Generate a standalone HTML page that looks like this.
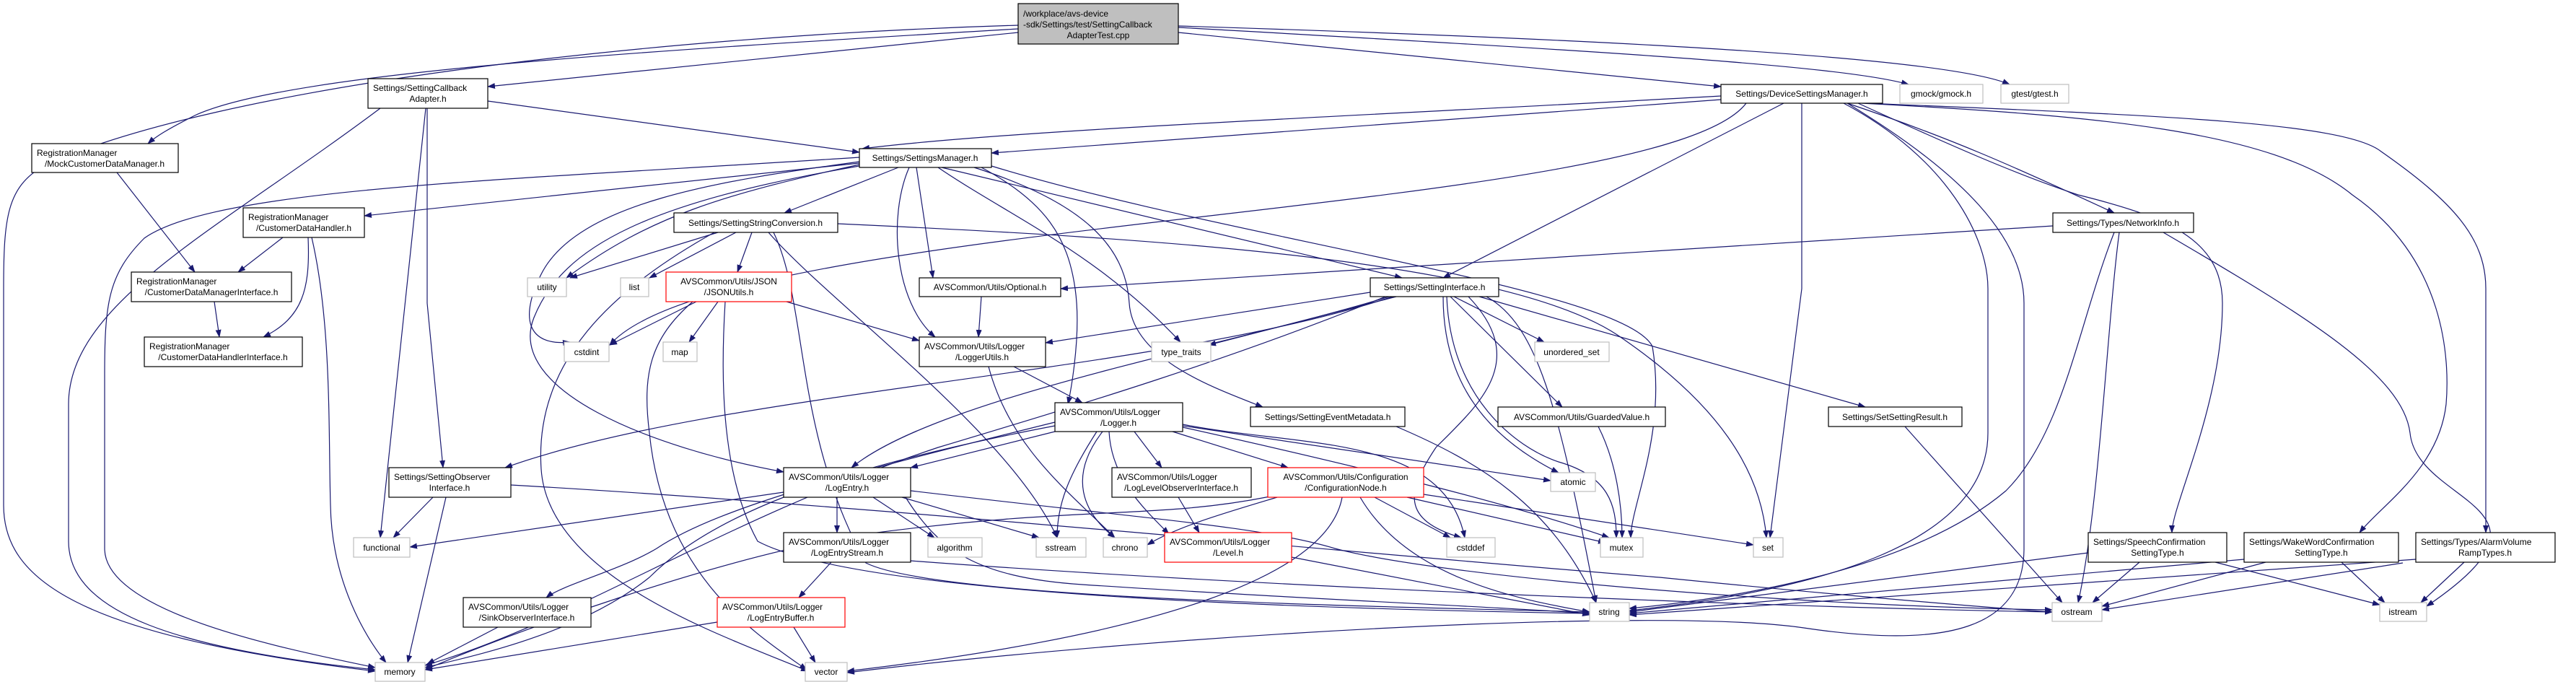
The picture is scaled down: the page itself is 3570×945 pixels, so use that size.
<!DOCTYPE html>
<html><head><meta charset="utf-8"><style>
html,body{margin:0;padding:0;background:#fff;width:3570px;height:945px;overflow:hidden}
svg{display:block}
text{font-family:"Liberation Sans",Arial,sans-serif;font-size:12px;fill:#000}
.e{fill:none;stroke:#191970;stroke-width:1.2}
.n{fill:#fff;stroke:#000;stroke-width:1.2}
.r{fill:#fff;stroke:#ff0000;stroke-width:1.2}
.g{fill:#fff;stroke:#bfbfbf;stroke-width:1.2}
</style></head><body>
<svg width="3570" height="945" viewBox="0 0 3570 945" xmlns="http://www.w3.org/2000/svg">
<defs><marker id="a" markerUnits="userSpaceOnUse" markerWidth="11" markerHeight="8" refX="10" refY="4" orient="auto"><path d="M0,0 L11,4 L0,8 z" fill="#191970"/></marker></defs>
<g marker-end="url(#a)">
<!-- top node -->
<path class="e" d="M1411,35 C900,50 300,120 60,230 C10,260 5,300 5,400 L5,700 C5,800 100,880 520,930"/>
<path class="e" d="M1411,40 C900,70 400,100 270,160 C230,180 215,190 205,199"/>
<path class="e" d="M1411,45 L676,120"/>
<path class="e" d="M1633,45 L2385,120"/>
<path class="e" d="M1633,38 C2200,70 2550,90 2645,117"/>
<path class="e" d="M1633,36 C2250,55 2700,80 2785,117"/>
<!-- SettingCallbackAdapter -->
<path class="e" d="M676,140 L1191,211"/>
<path class="e" d="M527,150 C300,320 95,420 95,560 L95,750 C95,850 250,900 520,928"/>
<path class="e" d="M590,150 L527,745"/>
<path class="e" d="M592,150 L592,420 L614,648"/>
<!-- Mock -->
<path class="e" d="M162,239 L270,377"/>
<!-- SettingsManager -->
<path class="e" d="M1191,218 C700,250 300,260 200,330 C150,380 145,420 145,520 L145,760 C145,850 400,900 520,925"/>
<path class="e" d="M1191,226 L505,299"/>
<path class="e" d="M1191,224 C1000,250 800,280 750,380 C720,440 730,480 790,474"/>
<path class="e" d="M1191,228 C1000,270 900,300 785,385"/>
<path class="e" d="M1245,232 L1087,295"/>
<path class="e" d="M1191,230 C900,280 780,340 740,440 C700,540 900,620 1086,654"/>
<path class="e" d="M1270,232 L1293,385"/>
<path class="e" d="M1260,232 C1230,300 1240,420 1296,467"/>
<path class="e" d="M1300,232 C1400,300 1520,350 1636,474"/>
<path class="e" d="M1305,232 L1943,385"/>
<path class="e" d="M1374,230 C1700,330 2250,400 2290,480 C2310,600 2260,700 2260,745"/>
<path class="e" d="M1350,232 C1500,280 1560,340 1565,420 C1570,500 1690,540 1750,564"/>
<path class="e" d="M1360,232 C1450,280 1480,330 1490,400 C1500,470 1480,560 1480,560"/>
<!-- SettingStringConversion -->
<path class="e" d="M995,322 L790,385"/>
<path class="e" d="M1020,322 L900,385"/>
<path class="e" d="M1042,322 L1022,377"/>
<path class="e" d="M1065,322 C1150,420 1400,600 1465,745"/>
<path class="e" d="M1072,322 C1120,420 1100,600 1200,780 C1300,830 1900,840 2203,848"/>
<path class="e" d="M990,322 C850,400 740,500 750,650 C760,800 1000,880 1120,930"/>
<path class="e" d="M1161,310 C1600,330 2100,360 2250,470 C2380,560 2440,650 2448,745"/>
<!-- JSONUtils -->
<path class="e" d="M965,418 L845,478"/>
<path class="e" d="M995,418 L955,474"/>
<path class="e" d="M1005,418 C1000,500 995,650 1050,750 C1200,830 1900,845 2203,850"/>
<path class="e" d="M1090,418 L1274,472"/>
<path class="e" d="M960,418 C900,470 890,520 900,600 C920,800 1050,880 1118,928"/>
<!-- CustomerDataHandler -->
<path class="e" d="M392,329 L330,377"/>
<path class="e" d="M427,329 C430,400 420,440 365,467"/>
<path class="e" d="M432,329 C460,450 455,600 458,700 C460,820 520,900 535,918"/>
<path class="e" d="M297,418 L304,467"/>
<!-- Optional / LoggerUtils -->
<path class="e" d="M1360,411 L1356,467"/>
<path class="e" d="M1405,508 L1500,558"/>
<path class="e" d="M1370,508 C1400,620 1480,680 1545,745"/>
<!-- Logger.h -->
<path class="e" d="M1462,598 L1262,648"/>
<path class="e" d="M1462,585 C1200,650 1000,700 910,760 C860,790 780,810 757,828"/>
<path class="e" d="M1462,590 C1200,640 1000,700 900,800 C800,880 650,910 589,925"/>
<path class="e" d="M1520,598 C1480,660 1465,700 1465,745"/>
<path class="e" d="M1528,598 C1480,660 1500,710 1545,745"/>
<path class="e" d="M1572,598 L1610,648"/>
<path class="e" d="M1625,598 L1785,648"/>
<path class="e" d="M1639,590 L2149,666"/>
<path class="e" d="M1639,592 C1900,650 2100,700 2230,745"/>
<path class="e" d="M1537,598 C1540,660 1580,700 1620,740"/>
<path class="e" d="M1639,588 C1800,620 2000,600 2030,745"/>
<!-- LogEntry -->
<path class="e" d="M1086,682 L568,758"/>
<path class="e" d="M1160,689 L1160,738"/>
<path class="e" d="M1210,689 L1295,745"/>
<path class="e" d="M1250,689 L1440,745"/>
<path class="e" d="M1255,689 C1300,760 1350,800 1500,810 C1800,830 2100,842 2203,850"/>
<path class="e" d="M1262,680 C1600,720 1750,730 1850,760 C2000,800 2500,840 2844,845"/>
<!-- LogEntryStream -->
<path class="e" d="M1152,779 L1107,828"/>
<path class="e" d="M1262,777 C1700,810 2400,840 2844,848"/>
<!-- LogEntryBuffer -->
<path class="e" d="M994,862 L589,928"/>
<path class="e" d="M1100,869 L1130,918"/>
<!-- Sink -->
<path class="e" d="M690,869 L592,920"/>
<!-- SettingObserverInterface -->
<path class="e" d="M600,689 L545,745"/>
<path class="e" d="M618,689 L565,918"/>
<path class="e" d="M708,672 C1200,700 1800,760 2300,800 C2600,830 2800,845 2844,848"/>
<!-- LLOI / CN / Level / SEM / GV -->
<path class="e" d="M1633,689 L1662,738"/>
<path class="e" d="M1770,689 C1700,710 1630,730 1590,755"/>
<path class="e" d="M1860,689 C1840,800 1600,880 1174,930"/>
<path class="e" d="M1885,689 C1950,800 2100,830 2203,848"/>
<path class="e" d="M1905,689 L2010,745"/>
<path class="e" d="M1950,689 L2225,752"/>
<path class="e" d="M1973,685 L2430,755"/>
<path class="e" d="M1760,688 C1600,720 1500,700 1200,740 C1000,770 700,880 589,928"/>
<path class="e" d="M1790,772 L2203,852"/>
<path class="e" d="M1935,591 C2050,640 2150,700 2212,835"/>
<path class="e" d="M2215,591 C2240,640 2248,700 2248,745"/>
<!-- SettingInterface -->
<path class="e" d="M1899,405 L1449,475"/>
<path class="e" d="M1935,411 L1675,478"/>
<path class="e" d="M1925,411 C1700,480 1300,550 1180,648"/>
<path class="e" d="M1930,411 C1600,520 1000,540 700,648"/>
<path class="e" d="M1920,411 C1700,500 1500,560 1300,620 C1000,720 800,860 589,922"/>
<path class="e" d="M2015,411 L2140,474"/>
<path class="e" d="M2000,411 C2000,520 2050,600 2160,655"/>
<path class="e" d="M2010,411 L2165,564"/>
<path class="e" d="M2005,411 C2010,550 2100,620 2160,640 C2230,660 2240,700 2240,745"/>
<path class="e" d="M2060,411 C2130,450 2160,560 2212,835"/>
<path class="e" d="M2050,411 L2585,564"/>
<path class="e" d="M2035,411 C2120,500 2050,560 1990,620 C1950,680 1940,720 2025,745"/>
<!-- SetSettingResult -->
<path class="e" d="M2640,591 L2858,835"/>
<!-- DeviceSettingsManager -->
<path class="e" d="M2385,138 L1374,212"/>
<path class="e" d="M2385,133 C1900,160 1400,180 1195,206"/>
<path class="e" d="M2472,143 L2000,385"/>
<path class="e" d="M2497,143 L2497,400 L2453,745"/>
<path class="e" d="M2555,143 C2700,220 2755,330 2755,400 L2755,600 C2755,760 2500,820 2258,846"/>
<path class="e" d="M2560,143 C2720,240 2805,330 2805,420 L2805,760 C2805,870 2700,900 2500,870 C2300,840 1600,880 1174,932"/>
<path class="e" d="M2560,143 C2700,190 2790,230 2930,295"/>
<path class="e" d="M2575,143 C2700,200 2790,240 2880,270 C3000,300 3080,330 3080,420 C3080,560 3010,700 3010,738"/>
<path class="e" d="M2580,143 C2900,160 3150,180 3260,270 C3390,360 3395,500 3390,560 C3380,650 3300,700 3270,738"/>
<path class="e" d="M2585,143 C3000,160 3250,170 3300,210 C3400,280 3445,330 3445,400 L3445,738"/>
<path class="e" d="M2420,143 C2300,300 1000,300 845,478"/>
<!-- NetworkInfo -->
<path class="e" d="M2845,313 L1470,400"/>
<path class="e" d="M2930,322 C2880,450 2860,600 2780,680 C2650,790 2400,830 2258,843"/>
<path class="e" d="M2937,322 C2920,450 2910,700 2880,835"/>
<path class="e" d="M2998,322 C3200,440 3330,520 3340,600 C3350,700 3570,700 3363,840"/>
<!-- Speech / Wake / Alarm -->
<path class="e" d="M2894,766 L2258,848"/>
<path class="e" d="M2965,779 L2900,835"/>
<path class="e" d="M3070,779 L3298,838"/>
<path class="e" d="M3110,775 L2258,850"/>
<path class="e" d="M3140,779 L2913,840"/>
<path class="e" d="M3245,779 L3305,835"/>
<path class="e" d="M3348,775 L2258,852"/>
<path class="e" d="M3330,780 L2913,845"/>
<path class="e" d="M3415,779 L3355,835"/>
</g>

<!-- nodes -->
<rect x="1411" y="5" width="222" height="56" fill="#bfbfbf" stroke="#000" stroke-width="1.2"/>
<text x="1418" y="23">/workplace/avs-device</text>
<text x="1418" y="38">-sdk/Settings/test/SettingCallback</text>
<text x="1522" y="53" text-anchor="middle">AdapterTest.cpp</text>

<g>
<rect class="n" x="510" y="109" width="166" height="41"/><text x="517" y="126">Settings/SettingCallback</text><text x="593" y="141" text-anchor="middle">Adapter.h</text>
<rect class="n" x="44" y="199" width="203" height="40"/><text x="51" y="216">RegistrationManager</text><text x="145" y="231" text-anchor="middle">/MockCustomerDataManager.h</text>
<rect class="n" x="337" y="288" width="168" height="41"/><text x="344" y="305">RegistrationManager</text><text x="421" y="320" text-anchor="middle">/CustomerDataHandler.h</text>
<rect class="n" x="934" y="295" width="227" height="27"/><text x="1047" y="313" text-anchor="middle">Settings/SettingStringConversion.h</text>
<rect class="n" x="182" y="377" width="222" height="41"/><text x="189" y="394">RegistrationManager</text><text x="293" y="409" text-anchor="middle">/CustomerDataManagerInterface.h</text>
<rect class="r" x="923" y="377" width="174" height="41"/><text x="1010" y="394" text-anchor="middle">AVSCommon/Utils/JSON</text><text x="1010" y="409" text-anchor="middle">/JSONUtils.h</text>
<rect class="n" x="200" y="467" width="219" height="41"/><text x="207" y="484">RegistrationManager</text><text x="309" y="499" text-anchor="middle">/CustomerDataHandlerInterface.h</text>
<rect class="n" x="539" y="648" width="169" height="41"/><text x="546" y="665">Settings/SettingObserver</text><text x="623" y="680" text-anchor="middle">Interface.h</text>
<rect class="n" x="642" y="828" width="177" height="41"/><text x="649" y="845">AVSCommon/Utils/Logger</text><text x="730" y="860" text-anchor="middle">/SinkObserverInterface.h</text>
<rect class="r" x="994" y="828" width="177" height="41"/><text x="1001" y="845">AVSCommon/Utils/Logger</text><text x="1082" y="860" text-anchor="middle">/LogEntryBuffer.h</text>
<rect class="n" x="1086" y="648" width="176" height="41"/><text x="1093" y="665">AVSCommon/Utils/Logger</text><text x="1174" y="680" text-anchor="middle">/LogEntry.h</text>
<rect class="n" x="1086" y="738" width="176" height="41"/><text x="1093" y="755">AVSCommon/Utils/Logger</text><text x="1174" y="770" text-anchor="middle">/LogEntryStream.h</text>
<rect class="n" x="2385" y="117" width="224" height="26"/><text x="2497" y="134" text-anchor="middle">Settings/DeviceSettingsManager.h</text>
<rect class="n" x="1191" y="206" width="183" height="26"/><text x="1282" y="223" text-anchor="middle">Settings/SettingsManager.h</text>
<rect class="n" x="1274" y="385" width="196" height="26"/><text x="1372" y="402" text-anchor="middle">AVSCommon/Utils/Optional.h</text>
<rect class="n" x="1899" y="385" width="178" height="26"/><text x="1988" y="402" text-anchor="middle">Settings/SettingInterface.h</text>
<rect class="n" x="1274" y="467" width="175" height="41"/><text x="1281" y="484">AVSCommon/Utils/Logger</text><text x="1361" y="499" text-anchor="middle">/LoggerUtils.h</text>
<rect class="n" x="1462" y="558" width="177" height="40"/><text x="1469" y="575">AVSCommon/Utils/Logger</text><text x="1550" y="590" text-anchor="middle">/Logger.h</text>
<rect class="n" x="1733" y="564" width="214" height="27"/><text x="1840" y="582" text-anchor="middle">Settings/SettingEventMetadata.h</text>
<rect class="n" x="2076" y="564" width="232" height="27"/><text x="2192" y="582" text-anchor="middle">AVSCommon/Utils/GuardedValue.h</text>
<rect class="n" x="1541" y="648" width="193" height="41"/><text x="1548" y="665">AVSCommon/Utils/Logger</text><text x="1637" y="680" text-anchor="middle">/LogLevelObserverInterface.h</text>
<rect class="r" x="1757" y="648" width="216" height="41"/><text x="1865" y="665" text-anchor="middle">AVSCommon/Utils/Configuration</text><text x="1865" y="680" text-anchor="middle">/ConfigurationNode.h</text>
<rect class="r" x="1614" y="738" width="176" height="41"/><text x="1621" y="755">AVSCommon/Utils/Logger</text><text x="1702" y="770" text-anchor="middle">/Level.h</text>
<rect class="n" x="2845" y="295" width="195" height="27"/><text x="2942" y="313" text-anchor="middle">Settings/Types/NetworkInfo.h</text>
<rect class="n" x="2534" y="564" width="185" height="27"/><text x="2626" y="582" text-anchor="middle">Settings/SetSettingResult.h</text>
<rect class="n" x="2894" y="738" width="192" height="41"/><text x="2901" y="755">Settings/SpeechConfirmation</text><text x="2990" y="770" text-anchor="middle">SettingType.h</text>
<rect class="n" x="3110" y="738" width="214" height="41"/><text x="3117" y="755">Settings/WakeWordConfirmation</text><text x="3217" y="770" text-anchor="middle">SettingType.h</text>
<rect class="n" x="3348" y="738" width="193" height="41"/><text x="3355" y="755">Settings/Types/AlarmVolume</text><text x="3444" y="770" text-anchor="middle">RampTypes.h</text>
</g>
<g text-anchor="middle">
<rect class="g" x="731" y="385" width="54" height="26"/><text x="758" y="402">utility</text>
<rect class="g" x="860" y="385" width="39" height="26"/><text x="879" y="402">list</text>
<rect class="g" x="782" y="474" width="62" height="27"/><text x="813" y="492">cstdint</text>
<rect class="g" x="919" y="474" width="47" height="27"/><text x="942" y="492">map</text>
<rect class="g" x="490" y="745" width="78" height="27"/><text x="529" y="763">functional</text>
<rect class="g" x="520" y="918" width="69" height="26"/><text x="554" y="935">memory</text>
<rect class="g" x="1116" y="918" width="58" height="26"/><text x="1145" y="935">vector</text>
<rect class="g" x="1596" y="474" width="82" height="27"/><text x="1637" y="492">type_traits</text>
<rect class="g" x="2127" y="474" width="103" height="27"/><text x="2178" y="492">unordered_set</text>
<rect class="g" x="2149" y="655" width="62" height="26"/><text x="2180" y="672">atomic</text>
<rect class="g" x="1286" y="745" width="75" height="27"/><text x="1323" y="763">algorithm</text>
<rect class="g" x="1436" y="745" width="69" height="27"/><text x="1470" y="763">sstream</text>
<rect class="g" x="1529" y="745" width="61" height="27"/><text x="1559" y="763">chrono</text>
<rect class="g" x="2005" y="745" width="67" height="27"/><text x="2038" y="763">cstddef</text>
<rect class="g" x="2218" y="745" width="59" height="27"/><text x="2247" y="763">mutex</text>
<rect class="g" x="2203" y="835" width="55" height="26"/><text x="2230" y="852">string</text>
<rect class="g" x="2430" y="745" width="41" height="27"/><text x="2450" y="763">set</text>
<rect class="g" x="2844" y="835" width="69" height="26"/><text x="2878" y="852">ostream</text>
<rect class="g" x="3298" y="835" width="65" height="26"/><text x="3330" y="852">istream</text>
<rect class="g" x="2633" y="117" width="115" height="26"/><text x="2690" y="134">gmock/gmock.h</text>
<rect class="g" x="2773" y="117" width="94" height="26"/><text x="2820" y="134">gtest/gtest.h</text>
</g>
</svg>
</body></html>
